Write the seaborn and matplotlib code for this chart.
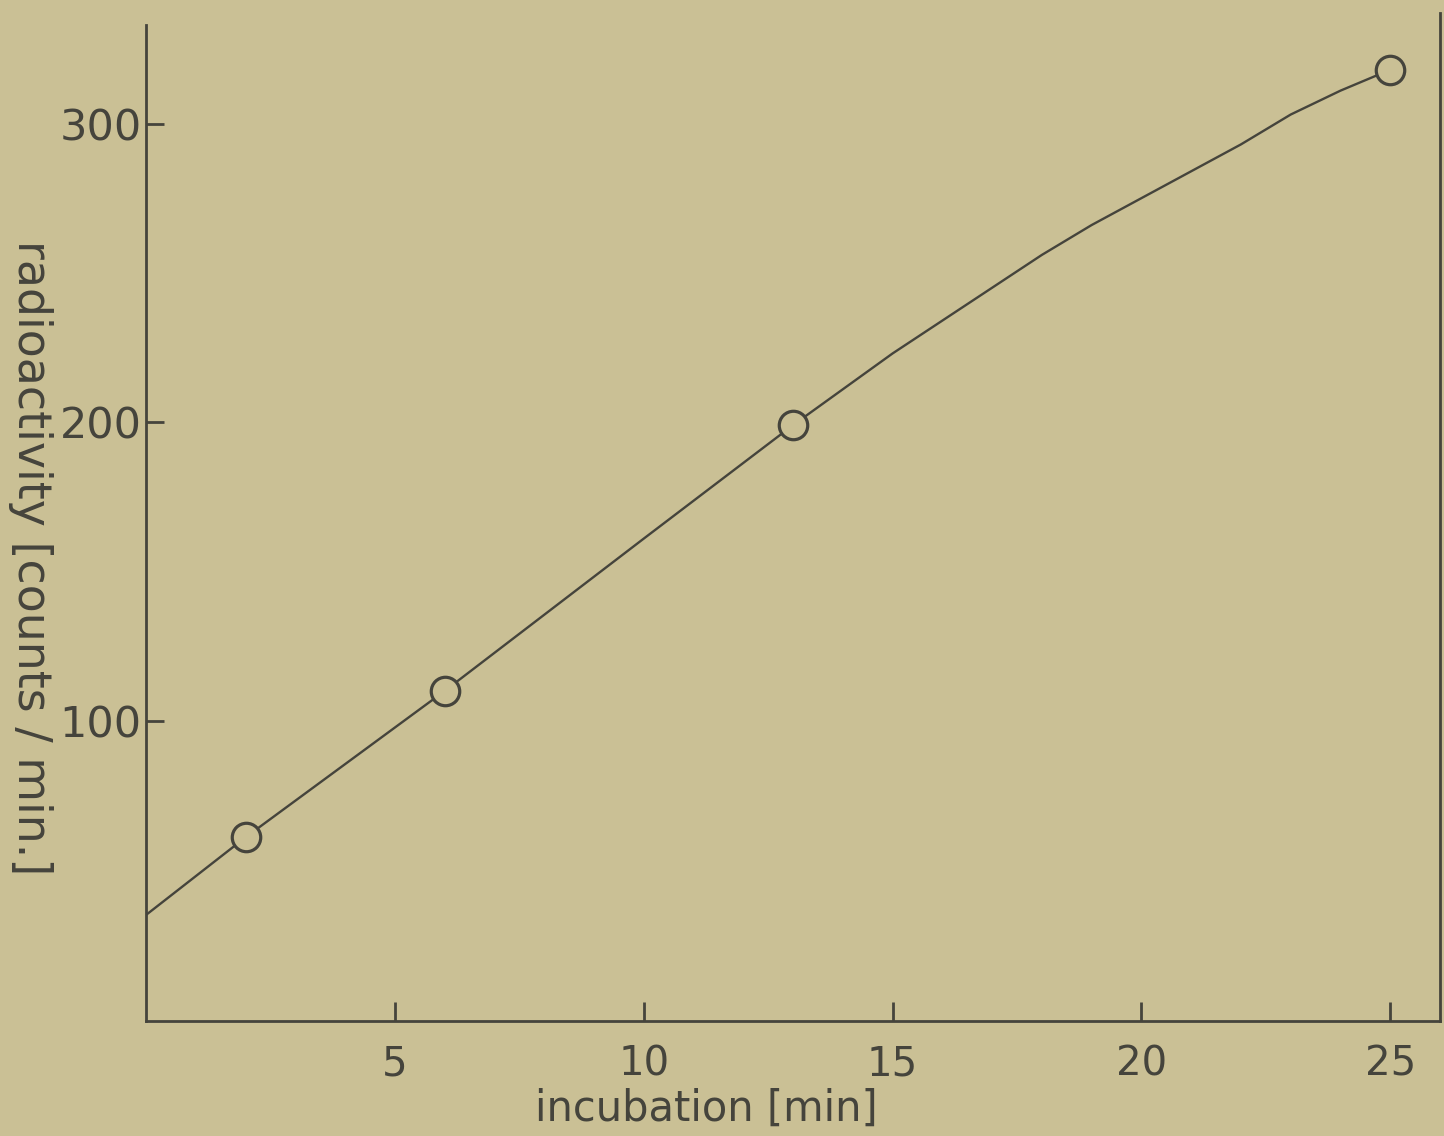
import matplotlib
matplotlib.use("Agg")
import matplotlib.pyplot as plt
import seaborn as sns
import pandas as pd

# measured points
incubation_min = [2, 6, 13, 25]
radioactivity = [61, 110, 199, 318]

# hand-drawn fitted curve
curve_x = [0, 2, 6, 10, 13, 15, 16, 17, 18, 19, 20, 21, 22, 23, 24, 25]
curve_y = [35, 61, 110, 161, 199, 223, 234, 245, 256, 266, 275, 284, 293, 303, 311, 318]

x_ticks = [5, 10, 15, 20, 25]
y_ticks = [100, 200, 300]
x_label = "incubation [min]"
y_label = "radioactivity [counts / min.]"

BG = "#cac095"
INK = "#45443c"

sns.set_theme(style="ticks")
plt.rcParams["font.family"] = ["DejaVu Sans"]

fig = plt.figure(figsize=(14.44, 11.36), dpi=100, facecolor=BG)
ax = fig.add_axes([146 / 1444, 1 - 1021 / 1136, (1440 - 146) / 1444, (1021 - 13) / 1136])
ax.set_facecolor(BG)

curve_df = pd.DataFrame({"x": curve_x, "y": curve_y})
pts_df = pd.DataFrame({"x": incubation_min, "y": radioactivity})

sns.lineplot(data=curve_df, x="x", y="y", ax=ax, color=INK, linewidth=1.7, sort=True)
sns.scatterplot(data=pts_df, x="x", y="y", ax=ax, s=420, marker="o",
                facecolor=BG, edgecolor=INK, linewidth=2.3, zorder=5)

ax.set_xlim(0, 26.0)
ax.set_ylim(-0.5, 337)

ax.spines["top"].set_visible(False)
for sp in ["left", "bottom", "right"]:
    ax.spines[sp].set_color(INK)
    ax.spines[sp].set_linewidth(2.0)
ax.spines["left"].set_bounds(-0.5, 333)

ax.set_xticks(x_ticks)
ax.set_xticklabels([str(v) for v in x_ticks])
ax.set_yticks(y_ticks)
ax.set_yticklabels([str(v) for v in y_ticks])
ax.tick_params(axis="x", direction="in", length=14, width=2, color=INK,
               labelsize=29, labelcolor=INK, pad=17)
ax.tick_params(axis="y", direction="in", length=13, width=2, color=INK,
               labelsize=31, labelcolor=INK, pad=3)

ax.set_xlabel(x_label, fontsize=30, color=INK)
ax.xaxis.set_label_coords(0.433, -0.066)
ax.set_ylabel(y_label, fontsize=33, color=INK, rotation=270, va="center", ha="center")
ax.yaxis.set_label_coords(-0.0896, 0.46)

fig.savefig("out.png", dpi=100, facecolor=BG)
